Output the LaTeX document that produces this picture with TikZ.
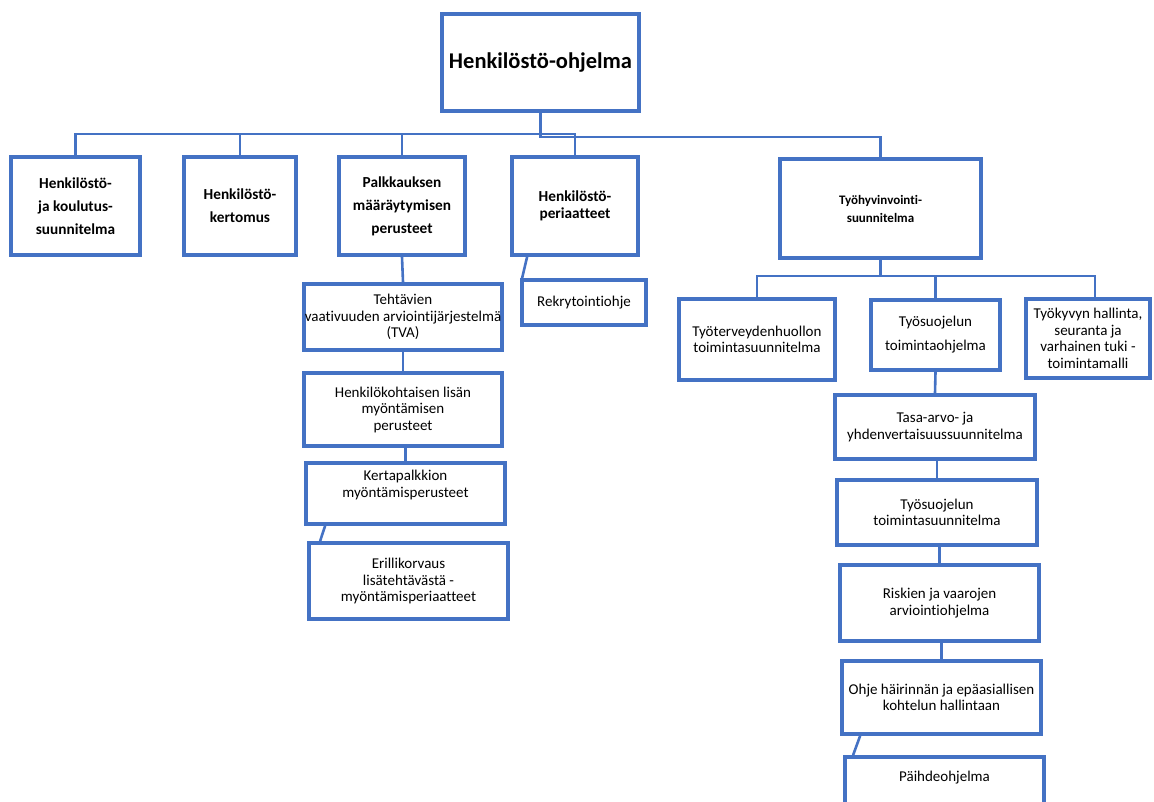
\documentclass[tikz,border=0pt]{standalone}
\usepackage{fontspec}
\setmainfont{Carlito}[RawFeature={-liga}]
\usetikzlibrary{calc}
\definecolor{bblue}{RGB}{68,114,196}
\tikzset{
  box/.style={draw=bblue, line width=3.8pt, fill=white, align=center, inner sep=1pt},
  reg/.style={font=\fontsize{15}{16.5}\selectfont},
  regwide/.style={font=\fontsize{15}{24}\selectfont},
  bld/.style={font=\bfseries\fontsize{15.3}{23}\selectfont},
  bldtight/.style={font=\bfseries\fontsize{15.3}{16.5}\selectfont},
  bldsmall/.style={font=\bfseries\fontsize{13}{18}\selectfont},
  conn/.style={draw=bblue, line width=2.6pt},
}
\begin{document}
\begin{tikzpicture}[x=1pt,y=-1pt]
\useasboundingbox (0,0) rectangle (1154,801);
% title
\node[box, minimum width=197, minimum height=97, font=\bfseries\fontsize{22.5}{26}\selectfont] (top) at (540.5,62.5) {Henkilöstö-ohjelma};
% row 2
\node[box, bld, minimum width=129, minimum height=98] (b1) at (75.5,206) {Henkilöstö-\\ja koulutus-\\suunnitelma};
\node[box, bld, minimum width=112, minimum height=98] (b2) at (240,206) {Henkilöstö-\\kertomus};
\node[box, bld, minimum width=126, minimum height=98] (b3) at (402,206) {Palkkauksen\\määräytymisen\\perusteet};
\node[box, bldtight, minimum width=126, minimum height=98] (b4) at (575,206) {Henkilöstö-\\periaatteet};
\node[box, bldsmall, minimum width=201, minimum height=99] (b5) at (880.5,208.5) {Työhyvinvointi-\\suunnitelma};
% middle column
\node[box, reg, minimum width=198, minimum height=66] (tva) at (403,317) {Tehtävien\\vaativuuden arviointijärjestelmä\\(TVA)};
\node[box, reg, minimum width=124, minimum height=45] (rek) at (584,302.5) {Rekrytointiohje};
\node[box, reg, minimum width=198, minimum height=73] (hlk) at (403,409.5) {Henkilökohtaisen lisän\\myöntämisen\\perusteet};
\node[box, reg, minimum width=199, minimum height=61, text depth=19pt] (ker) at (405.5,493.5) {Kertapalkkion\\myöntämisperusteet};
\node[box, reg, minimum width=199, minimum height=76] (eri) at (408.5,581) {Erillikorvaus\\lisätehtävästä -\\myöntämisperiaatteet};
% right column
\node[box, reg, minimum width=156, minimum height=81] (tth) at (757,339.5) {Työterveydenhuollon\\toimintasuunnitelma};
\node[box, regwide, minimum width=129, minimum height=70] (tso) at (935.5,335) {Työsuojelun\\toimintaohjelma};
\node[box, reg, minimum width=124, minimum height=79] (tky) at (1088,338.5) {Työkyvyn hallinta,\\seuranta ja\\varhainen tuki -\\toimintamalli};
\node[box, reg, minimum width=200, minimum height=64] (tas) at (935,427) {Tasa-arvo- ja\\yhdenvertaisuussuunnitelma};
\node[box, reg, minimum width=200, minimum height=65] (tsu) at (937,512.5) {Työsuojelun\\toimintasuunnitelma};
\node[box, reg, minimum width=199, minimum height=76] (ris) at (939.5,603) {Riskien ja vaarojen\\arviointiohjelma};
\node[box, reg, minimum width=199, minimum height=73] (ohj) at (941.5,697.5) {Ohje häirinnän ja epäasiallisen\\kohtelun hallintaan};
\node[box, minimum width=199, minimum height=71, label={[reg, anchor=center, yshift=-22pt]north:Päihdeohjelma}] (pai) at (944.5,792.5) {};
% connectors
\draw[conn] (top.south) -- ++(0,21) -| (b1.north);
\draw[conn] (top.south) -- ++(0,21) -| (b2.north);
\draw[conn] (top.south) -- ++(0,21) -| (b3.north);
\draw[conn] (top.south) -- ++(0,21) -| (b4.north);
\draw[conn] (top.south) -- ++(0,24) -| (b5.north);
\draw[conn] (b3.south) -- (tva.north);
\draw[conn] ($(b4.south west)+(17,0)$) -- ($(rek.north west)+(2,0)$);
\draw[conn] (tva.south) -- (hlk.north);
\draw[conn] (ker.north) -- (ker.north |- hlk.south);
\draw[conn] ($(ker.south west)+(21,0)$) -- ($(eri.north west)+(13,0)$);
\draw[conn] (b5.south) -- ++(0,16) -| (tth.north);
\draw[conn] (b5.south) -- ++(0,16) -| (tso.north);
\draw[conn] (b5.south) -- ++(0,16) -| ($(tky.north)+(7,0)$);
\draw[conn] (tso.south) -- (tas.north);
\draw[conn] (tsu.north) -- (tsu.north |- tas.south);
\draw[conn] (ris.north) -- (ris.north |- tsu.south);
\draw[conn] (ohj.north) -- (ohj.north |- ris.south);
\draw[conn] ($(ohj.south west)+(20,0)$) -- ($(pai.north west)+(10,0)$);
\end{tikzpicture}
\end{document}
